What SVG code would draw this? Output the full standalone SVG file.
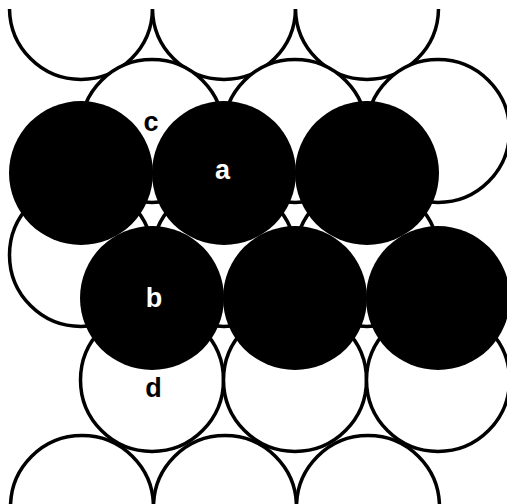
<svg xmlns="http://www.w3.org/2000/svg" width="507" height="504" viewBox="0 0 507 504">
<style>
.w{fill:#fff;stroke:#000;stroke-width:3.5}
.k{fill:#000}
.lb{font-family:"Liberation Sans",Arial,sans-serif;font-weight:bold;font-size:27px;text-anchor:middle}
</style>
<defs>
<clipPath id="frame"><rect x="0" y="9" width="507" height="495"/></clipPath>
</defs>
<rect width="507" height="504" fill="#fff"/>
<g clip-path="url(#frame)">
<g id="white-layer">
<circle class="w" cx="81" cy="8" r="71.5"/>
<circle class="w" cx="224" cy="8" r="71.5"/>
<circle class="w" cx="367" cy="8" r="71.5"/>
<circle class="w" cx="152" cy="131" r="71.5"/>
<circle class="w" cx="295" cy="131" r="71.5"/>
<circle class="w" cx="438" cy="131" r="71.5"/>
<circle class="w" cx="81" cy="255" r="71.5"/>
<circle class="w" cx="224" cy="255" r="71.5"/>
<circle class="w" cx="367" cy="255" r="71.5"/>
<circle class="w" cx="152" cy="380" r="71.5"/>
<circle class="w" cx="295" cy="380" r="71.5"/>
<circle class="w" cx="438" cy="380" r="71.5"/>
<circle class="w" cx="82" cy="507" r="71.5"/>
<circle class="w" cx="225" cy="507" r="71.5"/>
<circle class="w" cx="368" cy="507" r="71.5"/>
</g>
<g id="black-layer">
<circle class="k" cx="81" cy="173" r="72"/>
<circle class="k" cx="224" cy="173" r="72"/>
<circle class="k" cx="367" cy="173" r="72"/>
<circle class="k" cx="152" cy="298" r="72"/>
<circle class="k" cx="295" cy="298" r="72"/>
<circle class="k" cx="438" cy="298" r="72"/>
</g>
</g>
<g id="labels">
<text class="lb" x="151" y="131" fill="#000">c</text>
<text class="lb" x="222.5" y="179" fill="#fff">a</text>
<text class="lb" x="154" y="307" fill="#fff">b</text>
<text class="lb" x="153.5" y="397" fill="#000">d</text>
</g>
</svg>
